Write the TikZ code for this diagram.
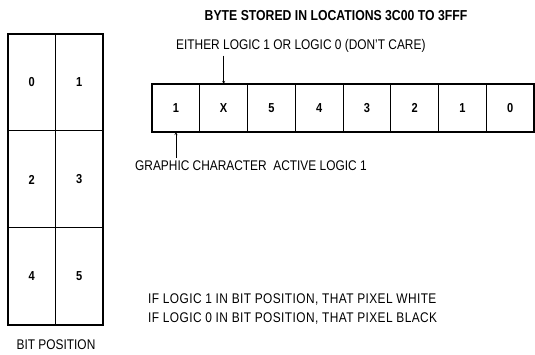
\documentclass[tikz,border=0pt]{standalone}
\usepackage{fontspec}
\setmainfont{Liberation Sans}[FakeStretch=0.85]
\usetikzlibrary{positioning, arrows}
\tikzstyle{bitcell} = [rectangle, minimum width=47.75pt, minimum height=48pt, text centered, draw=black, line width=1pt, outer sep=0pt, inner sep=0pt, font=\bfseries\fontsize{13}{15}\selectfont]
\tikzstyle{pixcell} = [rectangle, minimum width=47.5pt, minimum height=97pt, text centered, draw=black, line width=1pt, outer sep=0pt, inner sep=0pt, font=\bfseries\fontsize{13}{15}\selectfont]
\tikzstyle{frame} = [line width=2.4pt]
\tikzstyle{caption} = [inner sep=0pt, font=\fontsize{14}{16}\selectfont]
\tikzstyle{arrow} = [thin,->,>=stealth]

\begin{document}
\begin{tikzpicture}[x=1pt, y=-1pt]
    \useasboundingbox (0,0) rectangle (535,355);

    % character cell, six bit positions
    \node (p0) [pixcell] at (31.75,82.5) {0};
    \node (p1) [pixcell, right=0pt of p0] {1};
    \node (p2) [pixcell, below=0pt of p0] {2};
    \node (p3) [pixcell, right=0pt of p2] {3};
    \node (p4) [pixcell, below=0pt of p2] {4};
    \node (p5) [pixcell, right=0pt of p4] {5};
    \draw [frame] (p0.north west) rectangle (p5.south east);
    \node (bitpos) [caption] at (56,345) {BIT POSITION};

    % the stored byte
    \node (title) [font=\bfseries\fontsize{14.4}{16}\selectfont] at (336,16) {BYTE STORED IN LOCATIONS 3C00 TO 3FFF};
    \node (b7) [bitcell] at (175.9,108) {1};
    \node (b6) [bitcell, right=0pt of b7] {X};
    \node (b5) [bitcell, right=0pt of b6] {5};
    \node (b4) [bitcell, right=0pt of b5] {4};
    \node (b3) [bitcell, right=0pt of b4] {3};
    \node (b2) [bitcell, right=0pt of b3] {2};
    \node (b1) [bitcell, right=0pt of b2] {1};
    \node (b0) [bitcell, right=0pt of b1] {0};
    \draw [frame] (b7.north west) rectangle (b0.south east);

    \node (either) [caption, anchor=west] at (176,46) {EITHER LOGIC 1 OR LOGIC 0 (DON'T CARE)};
    \node (graphic) [caption, anchor=west] at (135,166) {GRAPHIC CHARACTER\ \ ACTIVE LOGIC 1};
    \draw [arrow] ([yshift=-3pt]b6.north |- either.south) -- (b6.north);
    \draw [arrow] ([yshift=3pt]b7.south |- graphic.north) -- (b7.south);

    % pixel meaning
    \node (white) [caption, anchor=west, font=\fontsize{14}{16}\selectfont\addfontfeature{LetterSpace=3}] at (148,300) {IF LOGIC 1 IN BIT POSITION, THAT PIXEL WHITE};
    \node (black) [caption, anchor=west, font=\fontsize{14}{16}\selectfont\addfontfeature{LetterSpace=3}] at (148,319) {IF LOGIC 0 IN BIT POSITION, THAT PIXEL BLACK};
\end{tikzpicture}
\end{document}
